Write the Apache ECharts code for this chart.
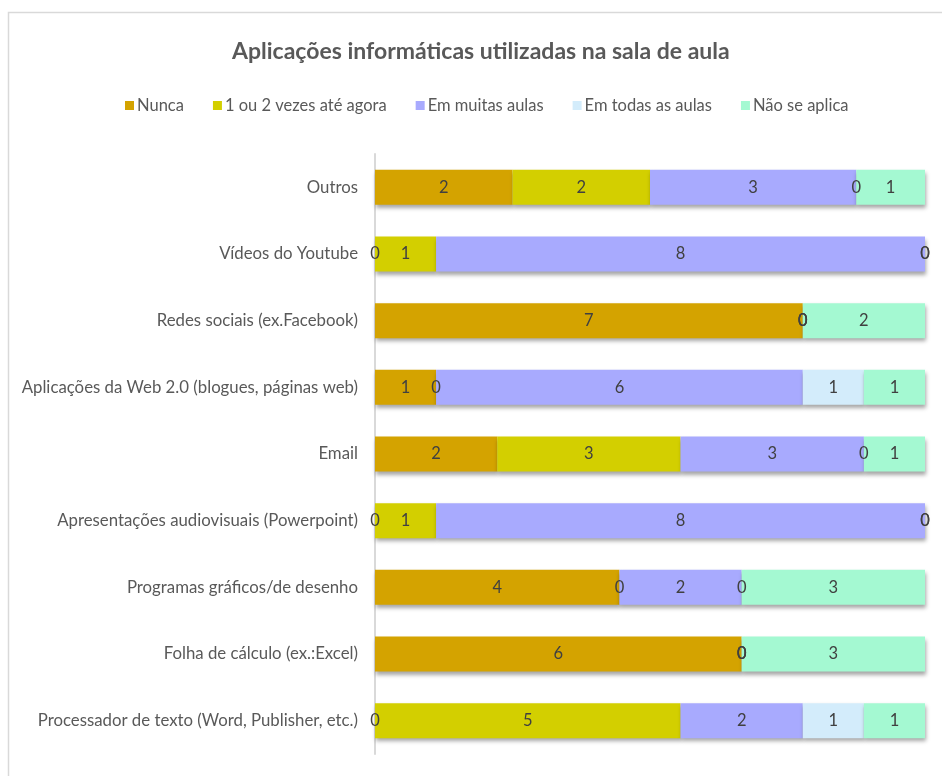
<!DOCTYPE html>
<html>
<head>
<meta charset="utf-8">
<script src="https://cdn.jsdelivr.net/npm/echarts@6/dist/echarts.min.js"></script>
<style>
  html, body { margin: 0; padding: 0; background: #fff; }
  #chart { width: 942px; height: 776px; }
</style>
</head>
<body>
<div id="chart"></div>
<script>
// Applications used in class, listed top to bottom
const categories = [
  'Outros',
  'Vídeos do Youtube',
  'Redes sociais (ex.Facebook)',
  'Aplicações da Web 2.0 (blogues, páginas web)',
  'Email',
  'Apresentações audiovisuais (Powerpoint)',
  'Programas gráficos/de desenho',
  'Folha de cálculo (ex.:Excel)',
  'Processador de texto (Word, Publisher, etc.)'
];

const seriesNames = ['Nunca', '1 ou 2 vezes até agora', 'Em muitas aulas', 'Em todas as aulas', 'Não se aplica'];

// Answer counts per category (same order as categories)
const nunca        = [2, 0, 7, 1, 2, 0, 4, 6, 0];
const umOuDuas     = [2, 1, 0, 0, 3, 1, 0, 0, 5];
const emMuitas     = [3, 8, 0, 6, 3, 8, 2, 0, 2];
const emTodas      = [0, 0, 0, 1, 0, 0, 0, 0, 1];
const naoSeAplica  = [1, 0, 2, 1, 1, 0, 3, 3, 1];

const colors = ['#D4A300', '#D3CF00', '#A8AAFE', '#D3ECFB', '#A4F9D2'];

const allSeries = [nunca, umOuDuas, emMuitas, emTodas, naoSeAplica];
const totals = categories.map((_, i) => allSeries.reduce((s, arr) => s + arr[i], 0));

const font = 'Lato, "Liberation Sans", sans-serif';

const chart = echarts.init(document.getElementById('chart'));

chart.setOption({
  animation: false,
  backgroundColor: '#fff',
  textStyle: { fontFamily: font },
  graphic: [{
    type: 'rect',
    shape: { x: 8.5, y: 12.5, width: 1000, height: 1000 },
    style: { fill: 'none', stroke: '#d9d9d9', lineWidth: 1.5 },
    silent: true
  }],
  title: {
    text: 'Aplicações informáticas utilizadas na sala de aula',
    left: 227,
    top: 35,
    textStyle: { fontFamily: font, fontSize: 23, fontWeight: 'bold', color: '#595959' }
  },
  legend: {
    data: seriesNames,
    left: 120,
    top: 92,
    icon: 'rect',
    itemWidth: 9,
    itemHeight: 9,
    itemGap: 29,
    textStyle: { fontFamily: font, fontSize: 16.5, color: '#595959', padding: [0, 0, 0, -2] }
  },
  grid: { left: 375, right: 17, top: 154, bottom: 22, containLabel: false },
  xAxis: {
    type: 'value',
    min: 0,
    max: 100,
    show: false
  },
  yAxis: {
    type: 'category',
    data: categories,
    inverse: true,
    axisLine: { show: true, lineStyle: { color: '#d9d9d9', width: 2 } },
    axisTick: { show: false },
    axisLabel: { fontFamily: font, fontSize: 16.8, color: '#595959', margin: 17 }
  },
  series: allSeries.map((arr, k) => ({
    name: seriesNames[k],
    type: 'bar',
    stack: 'total',
    barWidth: 35,
    itemStyle: {
      color: colors[k],
      shadowColor: 'rgba(0,0,0,0.35)',
      shadowBlur: 4,
      shadowOffsetX: 1,
      shadowOffsetY: 3
    },
    label: {
      show: true,
      position: 'inside',
      fontFamily: font,
      fontSize: 16.5,
      color: '#404040',
      formatter: p => String(arr[p.dataIndex])
    },
    data: arr.map((v, i) => v / totals[i] * 100)
  }))
});
</script>
</body>
</html>
